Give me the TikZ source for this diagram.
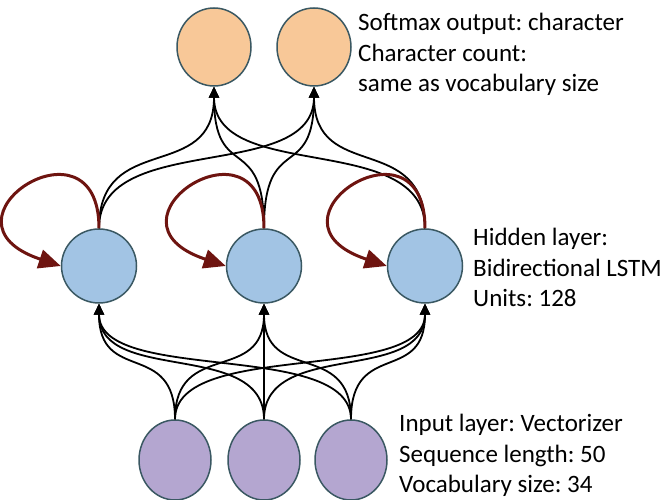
\documentclass[tikz,border=0pt]{standalone}
\usepackage{fontspec}
\setmainfont{Carlito}
\usepackage{tikz}
\usetikzlibrary{shapes.geometric,arrows.meta}
\usepackage{xcolor}
\definecolor{unitedge}{RGB}{58,88,98}
\definecolor{outpeach}{RGB}{248,200,152}
\definecolor{hidblue}{RGB}{162,196,228}
\definecolor{inlilac}{RGB}{180,166,208}
\definecolor{loopred}{RGB}{110,20,16}
\frenchspacing
\tikzset{
    unit/.style={ellipse, draw=unitedge, line width=1.5pt, inner sep=0pt,
                 fill=#1},
    outunit/.style={unit=outpeach, minimum width=74pt, minimum height=78pt},
    hidunit/.style={unit=hidblue, minimum width=75pt, minimum height=74pt},
    inunit/.style={unit=inlilac, minimum width=72pt, minimum height=80pt},
    link/.style={draw, line width=1.8pt,
                 -{Triangle[length=11pt,width=10pt]}},
    selfloop/.style={draw=loopred, line width=3pt,
                     -{Triangle[length=22pt,width=19pt]}},
    caption/.style={anchor=north west, inner sep=0pt, align=left,
                    font=\fontsize{25}{30.5}\selectfont},
}

\begin{document}
\begin{tikzpicture}[x=1pt, y=1pt]
    \useasboundingbox (0,0) rectangle (662,500);

    % layers
    \node[outunit] (o1) at (214,453) {};
    \node[outunit] (o2) at (314,453) {};
    \node[hidunit] (h1) at (99,234) {};
    \node[hidunit] (h2) at (264,234) {};
    \node[hidunit] (h3) at (425,234) {};
    \node[inunit] (i1) at (175,40) {};
    \node[inunit] (i2) at (264,40) {};
    \node[inunit] (i3) at (351,40) {};

    % dense connections, flattened where they cross
    \foreach \h in {h1,h2,h3}
        \foreach \o in {o1,o2}
            \draw[link] (\h.north) .. controls (\h.north |- 0,370)
                and (\o.south |- 0,316) .. (\o.south);
    \foreach \i in {i1,i2,i3}
        \foreach \h in {h1,h2,h3}
            \draw[link] (\i.north) .. controls (\i.north |- 0,161)
                and (\h.south |- 0,115) .. (\h.south);

    % recurrent loops
    \foreach \h in {h1,h2,h3}
        \draw[selfloop] (\h.north) .. controls +(0,120)
            and +(-135,45) .. (\h.west);

    \node[caption] (outtxt) at (358,487)
        {Softmax output: character\\Character count:\\same as vocabulary size};
    \node[caption] (hidtxt) at (473,272)
        {Hidden layer:\\Bidirectional LSTM\\Units: 128};
    \node[caption] (intxt) at (399,86)
        {Input layer: Vectorizer\\Sequence length: 50\\Vocabulary size: 34};
\end{tikzpicture}
\end{document}
